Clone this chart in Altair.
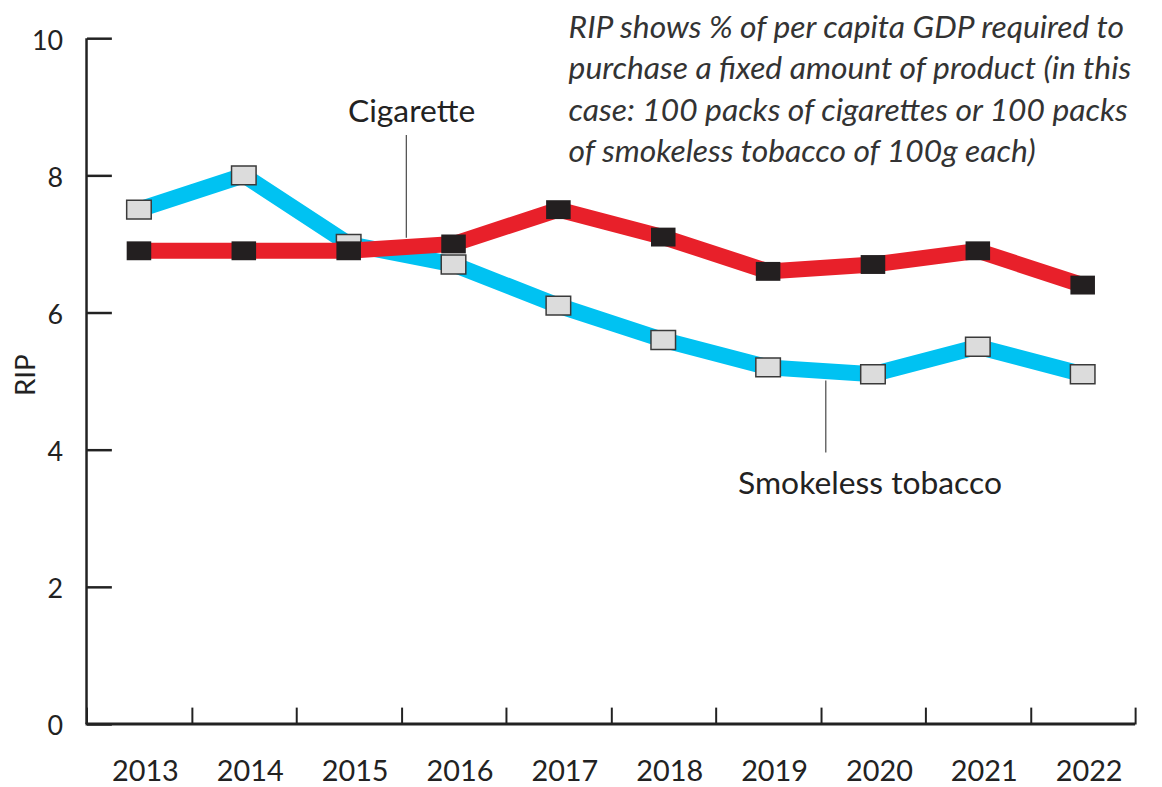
import altair as alt
import pandas as pd

# ---- data ----
years = ["2013", "2014", "2015", "2016", "2017", "2018", "2019", "2020", "2021", "2022"]
cigarette = [6.9, 6.9, 6.9, 7.0, 7.5, 7.1, 6.6, 6.7, 6.9, 6.4]
smokeless = [7.5, 8.0, 7.0, 6.7, 6.1, 5.6, 5.2, 5.1, 5.5, 5.1]
y_ticks = [0, 2, 4, 6, 8, 10]

# leader lines sit just after the band edges 2015|2016 and 2019|2020
leader_years = ["2016", "2020"]
leader_top = [8.59, 5.01]
leader_bottom = [7.09, 3.96]

cig_label = ["Cigarette"]
cig_label_year = ["2016"]
cig_label_y = [8.78]

smk_label = ["Smokeless tobacco"]
smk_label_year = ["2020"]
smk_label_y = [3.35]

note_lines = [
    "RIP shows % of per capita GDP required to",
    "purchase a fixed amount of product (in this",
    "case: 100 packs of cigarettes or 100 packs",
    "of smokeless tobacco of 100g each)",
]
y_title = "RIP"

# ---- styling ----
W, H = 1055, 690
FONT = "Lato"
RED = "#e8202a"
BLUE = "#00c2f2"
INK = "#222222"
RECT = "M-1.3,-1L1.3,-1L1.3,1L-1.3,1Z"

df_c = pd.DataFrame({"year": years, "value": cigarette})
df_s = pd.DataFrame({"year": years, "value": smokeless})
df_lead = pd.DataFrame({"year": leader_years, "top": leader_top, "bottom": leader_bottom})
df_cl = pd.DataFrame({"year": cig_label_year, "value": cig_label_y, "label": cig_label})
df_sl = pd.DataFrame({"year": smk_label_year, "value": smk_label_y, "label": smk_label})
df_note = pd.DataFrame({"t": ["\n".join(note_lines)]})
df_title = pd.DataFrame({"t": [y_title]})
df_one = pd.DataFrame({"a": [0]})

x_scale = alt.Scale(type="band", domain=years, paddingInner=0, paddingOuter=0)
x_axis = alt.Axis(
    title=None, tickBand="extent", tickSize=17, offset=-17, domain=False,
    labelPadding=34, labelFont=FONT, labelFontSize=29, labelColor=INK,
    tickColor=INK, tickWidth=2, labelAngle=0, labelOffset=6, grid=False,
)
y_scale = alt.Scale(domain=[0, 10], nice=False, zero=True)
y_axis = alt.Axis(
    title=None, values=y_ticks, format="d", offset=-25, tickSize=25, domain=False,
    labelPadding=24, labelFont=FONT, labelFontSize=27, labelColor=INK,
    tickColor=INK, tickWidth=2.5, labelOffset=3, grid=False,
)


def X(bp=0.5):
    return alt.X("year:O", scale=x_scale, axis=x_axis, bandPosition=bp)


def Y(field="value"):
    return alt.Y(f"{field}:Q", scale=y_scale, axis=y_axis)


y_domain = alt.Chart(df_one).mark_rule(color=INK, strokeWidth=2.5).encode(
    x=alt.value(0), y=alt.datum(10), y2=alt.datum(0)
)
x_domain = alt.Chart(df_one).mark_rule(color=INK, strokeWidth=3).encode(
    y=alt.datum(0), x=alt.value(-1), x2=alt.value(W)
)

blue_line = alt.Chart(df_s).mark_line(color=BLUE, strokeWidth=16).encode(x=X(), y=Y())
gray_pts = alt.Chart(df_s).mark_point(
    shape=RECT, size=361, filled=True, fill="#dcdcdc", stroke="#3a3a3a", strokeWidth=1.5, opacity=1
).encode(x=X(), y=Y())

red_line = alt.Chart(df_c).mark_line(color=RED, strokeWidth=16).encode(x=X(), y=Y())
black_pts = alt.Chart(df_c).mark_point(
    shape=RECT, size=361, filled=True, fill="#231f20", strokeWidth=0, opacity=1
).encode(x=X(), y=Y())

leaders = alt.Chart(df_lead).mark_rule(color="#555555", strokeWidth=1.3).encode(
    x=X(0.05), y=Y("top"), y2="bottom:Q"
)

cig_text = alt.Chart(df_cl).mark_text(
    font=FONT, fontSize=32, color=INK, align="center", baseline="alphabetic"
).encode(x=X(0.1), y=Y(), text="label:N")

smk_text = alt.Chart(df_sl).mark_text(
    font=FONT, fontSize=32, color=INK, align="center", baseline="alphabetic", dx=-3
).encode(x=X(), y=Y(), text="label:N")

note = alt.Chart(df_note).mark_text(
    font=FONT, fontSize=32, fontStyle="italic", color="#333333", align="left",
    baseline="alphabetic", lineBreak="\n", lineHeight=41.5,
).encode(x=alt.value(485), y=alt.value(0), text="t:N")

rip = alt.Chart(df_title).mark_text(
    font=FONT, fontSize=28, color=INK, angle=270, align="center", baseline="middle"
).encode(x=alt.value(-60), y=alt.value(339), text="t:N")

chart = alt.layer(
    y_domain, x_domain, blue_line, gray_pts, red_line, black_pts, leaders,
    cig_text, smk_text, note, rip
).properties(
    width=W, height=H,
    autosize=alt.AutoSizeParams(type="none"),
    padding={"left": 79, "top": 28, "right": 19, "bottom": 61},
    background="white",
).configure_view(stroke=None)

chart.save("out.html", embed_options={"renderer": "svg", "actions": False})
